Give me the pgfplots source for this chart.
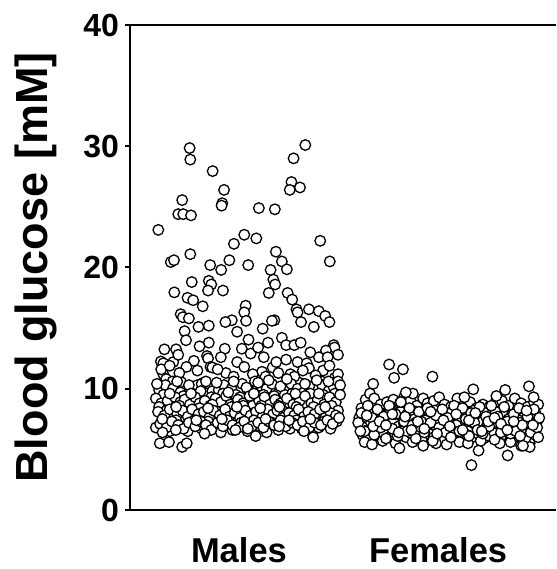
\documentclass[border=0pt]{standalone}
\usepackage{pgfplots}
\usepackage{pgfplotstable}
\usepackage{fontspec}
\setmainfont{Liberation Sans}
\pgfplotsset{compat=1.18}

% x = jitter position (arbitrary units), y = blood glucose in mM
\pgfplotstableread{
x y
149.3 23.1
178.7 29.85
179.3 28.9
200.3 27.95
171.7 25.56
168.0 24.4
172.7 24.4
180.0 24.3
211.0 26.4
209.3 25.3
208.7 25.1
243.7 24.9
258.7 24.8
287.3 30.1
276.3 29.0
274.3 27.05
272.7 26.4
282.3 26.6
301.3 22.2
310.3 20.5
230.0 22.7
241.3 22.4
220.3 21.95
179.3 21.1
161.0 20.45
164.0 20.6
198.0 20.2
208.3 19.8
216.0 20.6
233.7 20.2
259.7 21.3
265.3 20.5
270.0 19.85
254.7 19.8
257.3 19.0
259.0 18.6
196.7 18.9
199.0 18.6
196.0 18.1
180.7 18.8
210.0 18.1
164.3 17.95
176.7 17.5
182.0 17.3
191.0 16.8
253.0 17.9
270.7 17.9
275.0 17.35
279.0 16.55
280.0 16.3
231.3 16.85
230.0 16.3
231.7 15.6
218.3 15.65
212.3 15.5
258.3 15.65
256.0 15.6
283.3 15.5
290.7 16.55
300.0 16.4
306.0 16.0
310.0 15.5
295.3 15.1
170.3 16.15
172.3 15.9
178.0 15.8
187.0 15.1
196.7 15.2
174.0 14.75
223.3 14.7
247.3 14.95
175.3 14.0
234.0 14.05
265.3 14.2
252.3 13.8
196.7 13.8
211.7 13.3
227.7 13.3
269.3 13.6
277.0 13.6
155.0 13.25
166.0 13.25
314.0 13.6
314.7 13.4
306.7 13.15
195.0 12.7
196.0 12.5
248.3 12.6
269.3 12.4
300.0 12.6
308.3 12.6
151.7 12.25
154.0 12.1
163.3 12.2
182.7 12.3
223.3 12.2
198.3 11.8
200.0 11.75
175.7 11.8
256.7 11.75
280.0 12.2
288.7 12.1
290.7 11.7
246.7 11.4
212.7 11.3
273.3 11.2
304.0 11.5
315.0 10.9
154.0 11.2
156.7 10.8
162.7 10.6
170.7 10.55
191.7 10.5
216.0 10.2
281.7 10.5
315.0 10.5
302.7 10.6
152 11.6
160 11.9
169 11.3
186 11.5
205 11.6
220 11.0
230 11.8
238 11.2
250 11.0
262 11.3
277 11.0
285 11.5
297 11.1
310 11.9
318 11.2
168 12.8
208 12.6
236 12.9
260 12.2
292 13.0
188 13.5
243 13.4
283 13.8
318 12.8
150 9.9
156 10.3
163 10.0
170 9.7
176 9.5
182 10.1
186 10.3
190 10.4
195 9.6
200 9.8
206 9.9
211 10.3
218 10.0
222 9.5
228 10.4
234 9.9
240 10.6
246 10.2
251 10.0
256 10.4
262 9.6
268 9.5
274 10.4
280 10.0
286 9.7
291 10.2
297 9.4
303 10.3
309 9.8
314 10.1
318 10.6
148 10.4
154 9.5
161 8.6
167 10.6
173 9.4
178 10.3
183 8.9
189 9.8
194 10.6
199 9.3
204 10.5
210 9.6
215 8.8
220 10.6
226 9.3
232 10.1
237 9.4
243 10.5
248 9.5
253 10.7
258 9.4
264 10.2
270 10.8
275 9.6
281 9.3
287 10.4
292 9.6
298 10.7
304 9.5
309 10.6
315 9.6
320 10.3
147 9.2
152 8.8
158 9.0
165 9.3
170 8.9
174 9.1
179 8.7
184 9.3
188 8.8
193 9.0
198 8.6
203 9.2
208 8.9
213 9.4
217 8.7
224 9.1
229 8.8
235 9.4
238 8.6
244 9.0
249 9.3
254 8.7
259 9.1
264 8.8
270 9.2
276 8.7
282 9.0
287 9.4
293 8.8
299 9.1
305 8.7
310 9.3
316 8.9
320 9.5
150 8.5
157 8.2
163 7.6
169 8.6
175 8.1
182 7.5
188 8.4
194 7.9
200 8.7
205 8.1
211 7.6
218 8.5
224 7.9
229 8.6
234 8.0
240 7.5
246 8.6
251 8.0
256 7.6
262 8.6
268 8.1
273 7.6
279 8.5
284 8.0
289 7.5
295 8.5
300 7.7
307 8.2
312 8.6
318 8.2
149 8.1
155 7.8
160 8.3
167 7.9
172 8.2
177 7.7
181 8.3
187 7.9
192 8.1
197 7.6
201 8.2
207 7.8
212 8.3
216 7.7
221 8.0
226 7.6
231 8.2
236 7.8
241 8.1
247 7.7
252 8.3
257 7.9
261 8.2
266 7.6
272 8.0
277 7.8
281 8.3
286 7.7
290 8.1
296 7.9
301 8.3
306 7.6
311 8.0
316 7.8
147 6.8
154 7.2
160 6.5
166 7.4
171 6.9
177 6.5
183 7.4
190 6.7
196 7.3
202 6.9
208 6.4
213 7.0
219 6.6
227 7.2
233 6.5
239 7.4
245 6.9
251 6.4
256 7.2
262 6.6
267 7.1
273 6.7
279 7.4
284 6.7
289 7.1
294 6.5
300 6.8
305 7.3
311 6.7
317 7.3
151 7.1
157 6.8
162 7.3
168 7.0
173 6.7
178 7.2
184 6.9
189 7.3
194 7.0
199 6.6
205 7.2
210 6.9
214 7.4
219 7.0
225 6.8
230 7.3
237 6.9
243 7.2
248 6.8
253 7.3
258 7.0
264 7.4
269 6.9
275 7.2
280 7.0
285 7.3
291 6.8
296 7.2
302 7.0
308 7.4
313 7.1
153 7.5
166 8.5
180 9.6
196 8.4
209 7.5
223 8.5
239 9.6
250 7.5
263 8.5
278 9.6
292 7.5
306 8.5
319 7.6
160 9.6
185 7.4
215 9.7
245 8.4
272 7.4
300 9.6
150.7 5.5
159.3 5.6
171.7 5.2
176.0 5.5
192.7 6.3
240.7 6.1
294.7 6.0
286.0 6.5
262.7 6.9
153.3 6.4
165.7 6.6
221.7 6.6
233.3 6.7
}\males

\pgfplotstableread{
x y
340 8.4
344 9.1
348 9.6
352 9.2
358 8.7
364 8.9
370 9.1
376 8.8
380 9.3
386 9.0
392 8.6
398 9.2
402 8.8
408 9.0
413 9.3
418 8.7
424 8.5
430 9.2
436 8.6
442 8.9
448 8.4
454 8.7
460 8.5
466 8.9
472 9.0
478 8.6
484 9.2
490 8.8
496 8.5
502 8.9
506 8.7
338 7.6
342 7.9
347 8.2
353 7.7
357 8.0
362 7.8
367 8.3
372 7.6
377 8.1
383 7.9
388 8.2
393 7.7
399 8.0
404 7.8
409 8.2
414 7.6
419 7.9
425 8.1
430 7.7
435 8.0
440 7.8
445 8.2
451 7.6
456 8.0
461 7.8
466 8.1
471 7.7
476 8.0
481 7.8
487 8.1
492 7.6
497 7.9
503 8.1
345 7.4
358 7.5
368 7.6
379 7.4
390 7.5
400 7.4
412 7.5
422 7.4
434 7.5
444 7.4
456 7.5
466 7.4
478 7.5
488 7.4
500 7.5
339 7.0
344 6.8
349 7.2
355 6.9
360 7.1
365 6.8
370 7.3
375 6.9
380 7.1
385 6.7
391 7.2
396 6.9
401 7.0
406 6.7
411 7.2
416 6.9
421 7.1
426 6.8
432 7.2
437 6.9
442 7.0
447 6.7
452 7.2
458 7.0
463 6.8
468 7.2
473 6.9
479 7.1
484 6.8
489 7.2
494 6.9
499 7.1
505 7.3
347 6.6
362 6.6
378 6.5
394 6.6
410 6.5
426 6.6
440 6.5
456 6.6
470 6.5
486 6.6
502 6.6
341 6.2
346 6.0
351 6.4
356 6.1
361 6.3
366 6.0
371 6.4
377 6.2
382 6.0
387 6.3
392 6.1
397 5.9
403 6.3
408 6.0
413 6.2
418 5.8
423 6.1
428 6.3
434 5.9
439 6.2
444 6.0
449 6.3
455 5.9
460 6.1
465 6.3
470 6.0
475 6.2
480 5.9
486 6.1
491 6.3
496 5.9
501 6.2
343 5.6
350 5.4
360 5.7
372 5.5
388 5.6
398 5.3
410 5.5
420 5.4
432 5.6
440 5.5
452 5.7
470 5.5
480 5.6
490 5.3
498 5.5
337 7.2
340 8.0
343 6.5
346 8.6
350 7.6
352 6.2
355 8.3
358 6.8
361 7.7
363 5.9
366 8.6
369 6.7
372 7.9
374 6.1
377 8.9
380 7.3
383 6.5
385 8.4
388 7.0
391 5.9
394 8.1
396 7.3
399 6.4
402 8.4
405 7.2
407 5.7
410 7.8
413 6.8
416 8.3
419 6.4
421 7.6
424 6.0
427 8.6
429 7.0
432 6.5
435 8.4
438 7.5
441 6.1
443 8.0
446 7.2
449 6.6
451 8.5
454 6.3
457 7.7
460 6.9
462 8.6
465 5.8
468 7.7
471 6.4
474 8.5
477 7.3
480 6.3
483 7.9
485 6.5
488 8.4
491 7.0
494 5.9
496 7.7
499 6.4
502 8.3
505 6.8
507 7.6
339 6.5
345 7.8
351 6.9
357 7.3
363 7.0
369 7.9
375 6.4
381 7.7
387 6.6
393 7.3
399 6.7
405 8.1
411 6.3
417 7.4
423 6.9
429 7.9
435 6.6
441 7.4
447 8.0
453 6.5
459 7.3
465 7.6
471 7.1
477 6.6
483 7.3
489 6.1
495 8.2
501 7.0
506 6.0
366.0 12.0
379.0 11.6
370.7 10.9
406.7 11.0
351.0 10.4
445.0 9.95
497.3 10.2
443.3 3.7
477.3 4.5
375.7 5.1
450.0 4.9
466.7 9.4
475.0 9.9
436.7 9.3
388.3 9.6
381.7 9.7
501.7 9.3
498.0 5.2
491.7 5.3
}\females

\begin{document}
\begin{tikzpicture}
\begin{axis}[
    name=ax,
    scale only axis,
    width=426pt, height=485pt,
    xmin=122.7, xmax=522.7,
    ymin=0, ymax=40,
    axis lines*=left,
    axis line style={line width=2pt, -},
    xtick={225,412},
    xticklabels={Males,Females},
    major x tick style={draw=none},
    ytick={0,10,20,30,40},
    yticklabels={0,10,20,30,40},
    tick align=outside,
    major tick length=5pt,
    major y tick style={line width=2pt, black},
    yticklabel style={font=\fontsize{32}{34}\selectfont\bfseries, xshift=-2.5pt},
    xticklabel style={font=\fontsize{34.5}{36}\selectfont\bfseries, yshift=-19pt},
    ylabel={Blood glucose [mM]},
    ylabel style={font=\fontsize{45}{48}\selectfont\bfseries,
        at={(axis description cs:-0.2207,0.5)}, anchor=center},
    clip=false,
]
\addplot[only marks, mark=*, mark size=5.3pt,
    mark options={fill=white, draw=black, line width=1.3pt}] table[x=x, y=y] {\males};
\addplot[only marks, mark=*, mark size=5.3pt,
    mark options={fill=white, draw=black, line width=1.3pt}] table[x=x, y=y] {\females};
\draw[line width=2pt] (rel axis cs:0,1) -- (rel axis cs:1,1);
\end{axis}
\pgfresetboundingbox
\path ([shift={(-130pt,-59pt)}]ax.south west) rectangle ([shift={(0pt,25pt)}]ax.north east);
\end{tikzpicture}
\end{document}
